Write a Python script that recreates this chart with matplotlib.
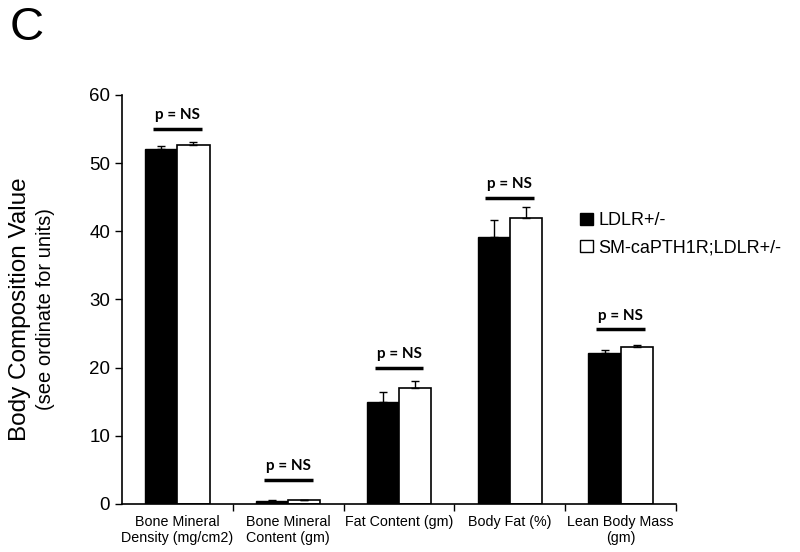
import matplotlib.pyplot as plt
import numpy as np
from matplotlib.patches import Patch

# Body composition categories and group values
categories = ["Bone Mineral\nDensity (mg/cm2)", "Bone Mineral\nContent (gm)",
              "Fat Content (gm)", "Body Fat (%)", "Lean Body Mass\n(gm)"]
ldlr_mean = [52.1, 0.5, 15.0, 39.1, 22.2]
ldlr_err = [0.4, 0.05, 1.4, 2.6, 0.4]
sm_mean = [52.6, 0.6, 17.0, 42.0, 23.0]
sm_err = [0.5, 0.05, 1.1, 1.5, 0.3]
sig_level = [55.0, 3.5, 20.0, 44.9, 25.6]
sig_text = ["p = NS"] * 5

plt.rcParams['font.family'] = ['Liberation Sans', 'DejaVu Sans']

fig = plt.figure(figsize=(8, 5.52), dpi=100)
ax = fig.add_axes([0.1525, 0.087, 0.6925, 0.741])

x = np.arange(len(categories))
w = 0.29
zeros = [0] * len(categories)
ax.bar(x - w / 2, ldlr_mean, w, color='black', edgecolor='black', linewidth=1,
       yerr=[zeros, ldlr_err], capsize=3, error_kw=dict(ecolor='black', elinewidth=1, capthick=1))
ax.bar(x + w / 2, sm_mean, w, color='white', edgecolor='black', linewidth=1.2,
       yerr=[zeros, sm_err], capsize=3, error_kw=dict(ecolor='black', elinewidth=1, capthick=1))

# significance lines
for xi, lvl, txt in zip(x, sig_level, sig_text):
    ax.plot([xi - 0.22, xi + 0.22], [lvl, lvl], color='black', lw=2.5, solid_capstyle='butt')
    ax.text(xi, lvl + 1.0, txt, ha='center', va='bottom', fontsize=11,
            fontweight='bold', family=['Lato', 'DejaVu Sans'])

ax.set_xlim(-0.5, 4.5)
ax.set_ylim(0, 60)
ax.set_yticks(range(0, 61, 10))
ax.tick_params(axis='y', labelsize=13.5, direction='out', length=5, width=1)
ax.set_xticks(x)
ax.set_xticklabels(categories, fontsize=10.3)
ax.tick_params(axis='x', which='major', length=0, pad=8)
ax.set_xticks(np.arange(0.5, 5, 1), minor=True)
ax.tick_params(axis='x', which='minor', length=5, width=1, direction='out')
for s in ['top', 'right']:
    ax.spines[s].set_visible(False)
for s in ['left', 'bottom']:
    ax.spines[s].set_linewidth(1.2)

handles = [Patch(facecolor='black', edgecolor='black', label='LDLR+/-'),
           Patch(facecolor='white', edgecolor='black', label='SM-caPTH1R;LDLR+/-')]
fig.legend(handles=handles, loc='upper left', bbox_to_anchor=(0.705, 0.645),
           frameon=False, fontsize=13, handlelength=0.7, handleheight=0.7,
           handletextpad=0.3, labelspacing=0.55)

fig.text(0.025, 0.44, "Body Composition Value", rotation=90, ha='center', va='center', fontsize=17.5)
fig.text(0.057, 0.44, "(see ordinate for units)", rotation=90, ha='center', va='center', fontsize=14.5)
fig.text(0.012, 0.99, "C", ha='left', va='top', fontsize=34)

fig.savefig('out.png', dpi=100)
